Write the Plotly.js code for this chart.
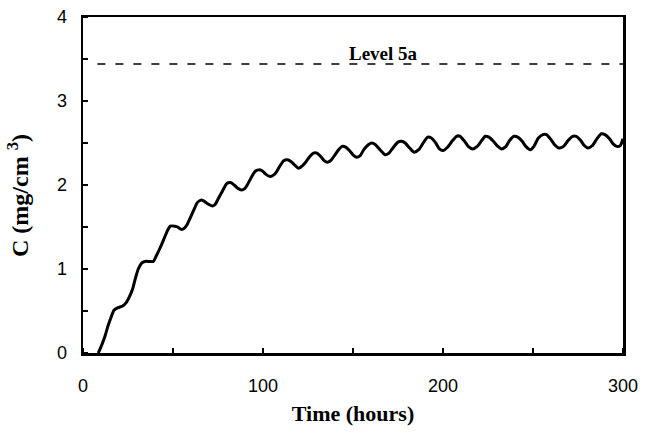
<!DOCTYPE html>
<html><head><meta charset="utf-8">
<script src="https://cdn.plot.ly/plotly-3.0.1.min.js"></script>
<style>html,body{margin:0;padding:0;background:#fff}#chart{width:646px;height:446px}</style>
</head><body><div id="chart"></div>
<script>
const timeHours = [8.5,10.5,12.2,14,15.5,17.2,19.5,22,24,26,27.5,29,30.7,32.6,34.4,37,39,40.8,42.8,45,47,48.5,51,52.5,54.8,56.5,57.6,59.4,61.5,63.5,65.5,67,69,72,73.5,75.2,77.5,80,82,84,86,88,90,91.5,93.5,95.5,97.5,99.5,101.5,103.9,106,107.6,109.5,111.5,113.5,115.5,117.5,119.8,122,124,126,128,130,132,134,135.8,138,140,142,144,146,148,150,152,154,156,158.5,160.5,162.5,165,167.8,170,172.5,175,177,179,181.5,184,186.5,189,191.5,193.5,196,198,200,202.5,205,207.5,209.5,212,214,216.5,219,221.5,223.5,225.5,228,230.5,232.5,235,237,239.5,241.5,244,246,248.5,250.5,253,255.5,257.5,260,262,264.5,267,269.5,272,274,276.5,278.5,280.5,283,285.5,288,290,292.5,294.5,296.5,298.5,300];
const concentration = [0,0.1,0.2,0.33,0.42,0.51,0.54,0.56,0.6,0.68,0.76,0.88,1.0,1.07,1.09,1.09,1.09,1.16,1.25,1.36,1.46,1.51,1.51,1.50,1.47,1.49,1.52,1.60,1.70,1.79,1.82,1.81,1.78,1.75,1.77,1.84,1.93,2.02,2.03,2.0,1.96,1.94,1.96,2.01,2.09,2.16,2.18,2.17,2.13,2.10,2.12,2.16,2.23,2.29,2.30,2.28,2.24,2.20,2.23,2.28,2.34,2.38,2.38,2.34,2.29,2.27,2.30,2.36,2.42,2.46,2.45,2.41,2.36,2.33,2.35,2.42,2.48,2.50,2.48,2.42,2.36,2.38,2.45,2.51,2.52,2.50,2.44,2.39,2.42,2.50,2.57,2.56,2.50,2.43,2.41,2.45,2.52,2.58,2.58,2.52,2.46,2.43,2.46,2.53,2.58,2.57,2.52,2.46,2.43,2.46,2.53,2.58,2.57,2.52,2.46,2.42,2.46,2.56,2.60,2.60,2.54,2.48,2.44,2.46,2.53,2.58,2.58,2.53,2.47,2.44,2.47,2.55,2.61,2.60,2.55,2.49,2.46,2.47,2.55];
const levelX = [8, 300];
const levelValue = 3.44;
const levelLabel = "Level 5a";
const xTickVals = [0,100,200,300];
const yTickVals = [0,1,2,3,4];
const xTitle = "Time (hours)";
const yTitle = "C (mg/cm <sup>3</sup>)";

const traces = [
  {x: timeHours, y: concentration, type:'scatter', mode:'lines',
   line:{color:'#000', width:3, shape:'spline', smoothing:0.6}, hoverinfo:'skip'},
  {x: levelX, y: [levelValue, levelValue], type:'scatter', mode:'lines',
   line:{color:'#000', width:1.6, dash:'8px,10px'}, hoverinfo:'skip'}
];
const tickFont = {family:'"Liberation Sans", Arial, sans-serif', size:18, color:'#000'};
const serif = '"Liberation Serif", "Times New Roman", serif';
const layout = {
  width:646, height:446,
  margin:{l:83, r:23, t:17, b:93, pad:0},
  paper_bgcolor:'#fff', plot_bgcolor:'#fff',
  showlegend:false,
  xaxis:{range:[0,300], tickvals:xTickVals, ticktext:xTickVals.map(String),
    ticks:'', showgrid:false, zeroline:false, showline:true, linecolor:'#000', linewidth:2.5, mirror:true,
    tickfont:tickFont, ticklabelstandoff:15,
    minor:{dtick:50, tick0:0, ticks:'inside', ticklen:5, tickwidth:2, tickcolor:'#000', showgrid:false},
    title:{text:'<b>'+xTitle+'</b>', font:{family:serif, size:22, color:'#000'}, standoff:11}},
  yaxis:{range:[0,4], tickvals:yTickVals, ticktext:yTickVals.map(String),
    ticks:'', showgrid:false, zeroline:false, showline:true, linecolor:'#000', linewidth:2.5, mirror:true,
    tickfont:tickFont, ticklabelstandoff:10,
    minor:{dtick:0.5, tick0:0, ticks:'inside', ticklen:5, tickwidth:2, tickcolor:'#000', showgrid:false}},
  annotations:[
    {x:167, y:3.57, xref:'x', yref:'y', text:'<b>'+levelLabel+'</b>', showarrow:false,
     font:{family:serif, size:19, color:'#000'}},
    {x:-65, y:196, xref:'x domain', yref:'paper', xanchor:'center', yanchor:'middle', showarrow:false,
     text:'<b>'+yTitle+'</b>', textangle:-90, font:{family:serif, size:24, color:'#000'}}
  ]
};
// place y-title annotation in pixel-like paper coords
layout.annotations[1].xref = 'paper'; layout.annotations[1].x = 18/540 - 83/540; 
layout.annotations[1].y = (446-93-196)/336;
Plotly.newPlot('chart', traces, layout, {staticPlot:true, displayModeBar:false});
</script></body></html>
